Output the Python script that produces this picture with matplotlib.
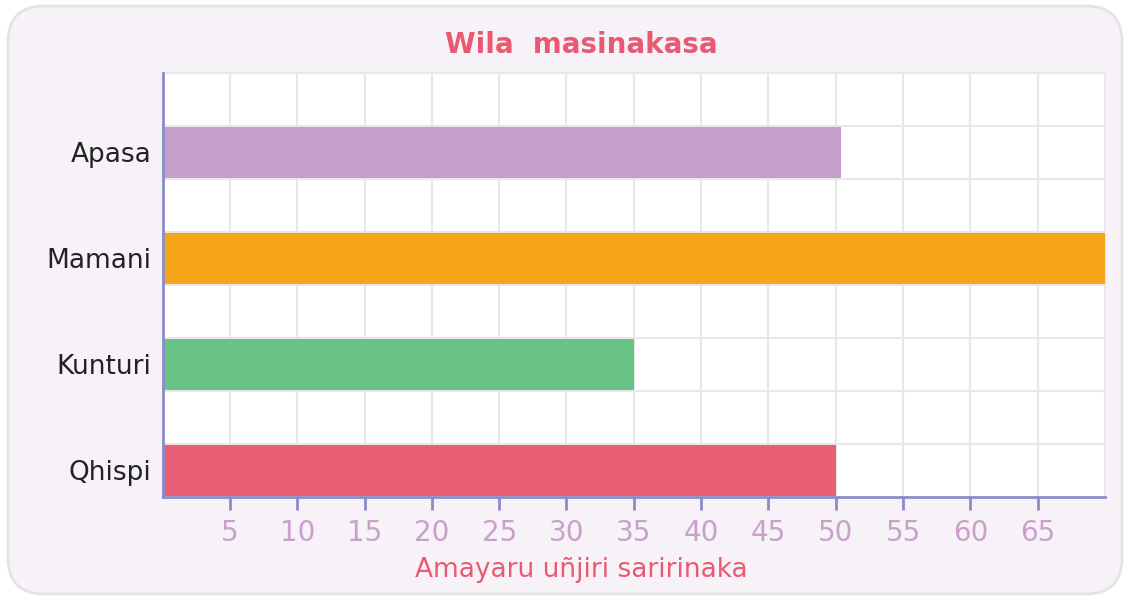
import matplotlib
matplotlib.use("Agg")
import numpy as np
import matplotlib.pyplot as plt
from matplotlib.patches import FancyBboxPatch

# bar data, top to bottom
names = ["Apasa", "Mamani", "Kunturi", "Qhispi"]
counts = [50.4, 70, 35, 50]
colors = ["#c59fc9", "#f7a61c", "#69c387", "#e95e72"]
xticks = [5, 10, 15, 20, 25, 30, 35, 40, 45, 50, 55, 60, 65]

title = "Wila  masinakasa"
xlabel = "Amayaru uñjiri saririnaka"

plt.rcParams['font.family'] = ['DejaVu Sans']

fig = plt.figure(figsize=(11.29, 6.02), dpi=100)
fig.patch.set_facecolor("white")

# rounded card behind the chart
card = FancyBboxPatch((8/1129, 8/602), 1114/1129, 588/602,
                      boxstyle="round,pad=0,rounding_size=0.032",
                      transform=fig.transFigure, facecolor="#f7f2f8",
                      edgecolor="#e4e4e4", linewidth=2,
                      mutation_aspect=1129/602, zorder=-5)
fig.patches.append(card)

ax = fig.add_axes([162.6/1129, 1 - 496.7/602, 942.4/1129, 424/602])
ax.set_zorder(2)
ax.set_facecolor("white")

# rows sit in every other grid cell, counting up from the bottom
ypos = [6.5, 4.5, 2.5, 0.5]
ax.barh(ypos, counts, height=0.96, color=colors, zorder=3)

ax.set_xlim(0, 70)
ax.set_ylim(0, 8)

for v in xticks:
    ax.axvline(v, color="#e8e8e8", lw=1.5, zorder=1)
for h in range(1, 8):
    ax.axhline(h, color="#e8e8e8", lw=1.5, zorder=1)

ax.set_xticks(xticks)
ax.set_xticklabels([str(v) for v in xticks], color="#c9a0cc", fontsize=20)
ax.tick_params(axis="x", length=9, width=2, color="#8a8cc8", pad=7)
ax.set_yticks(ypos)
ax.set_yticklabels(names, color="#222222", fontsize=19)
ax.tick_params(axis="y", length=0, pad=8)

for side in ["left", "bottom"]:
    ax.spines[side].set_color("#8a8cc8")
    ax.spines[side].set_linewidth(2)
    ax.spines[side].set_zorder(4)
for side in ["top", "right"]:
    ax.spines[side].set_color("#e8e8e8")
    ax.spines[side].set_linewidth(1.5)

fig.text(581/1129, 1 - 45/602, title, ha="center", va="center",
         fontsize=20, fontweight="bold", color="#e85a72")
fig.text(581/1129, 1 - 570/602, xlabel, ha="center", va="center",
         fontsize=19, color="#e85a72")

fig.savefig("out.png", dpi=100)
